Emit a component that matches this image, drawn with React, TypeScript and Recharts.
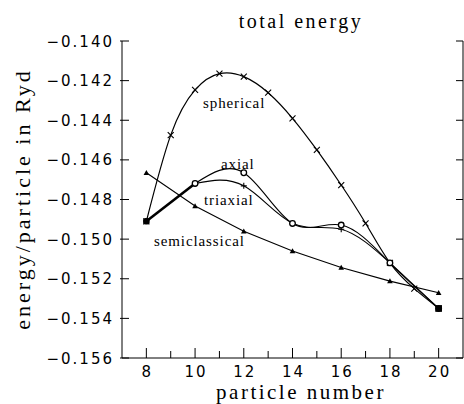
import React from 'react';
import { LineChart, Line, XAxis, YAxis, Label } from 'recharts';

const particleNumbers = [8, 9, 10, 11, 12, 13, 14, 15, 16, 17, 18, 19, 20];
const sphericalEnergy = [-0.1491, -0.14475, -0.14247, -0.14165, -0.1418, -0.14261, -0.1439, -0.1455, -0.14727, -0.1492, -0.1512, -0.1525, -0.1535];
const deformedNumbers = [10, 12, 14, 16, 18, 20];
const axialEnergy = [-0.14719, -0.14665, -0.14921, -0.14929, -0.1512, -0.1535];
const triaxialEnergy = [-0.14719, -0.14731, -0.1492, -0.1495, -0.1512, -0.1535];
const semiNumbers = [8, 10, 12, 14, 16, 18, 20];
const semiclassicalEnergy = [-0.14665, -0.14833, -0.1496, -0.1506, -0.15143, -0.15212, -0.15271];
const boldNumbers = [8, 10];
const boldEnergy = [-0.1491, -0.14719];
const endNumbers = [8, 20];
const endEnergy = [-0.1491, -0.1535];

const xTicks = [8, 9, 10, 11, 12, 13, 14, 15, 16, 17, 18, 19, 20];
const yTicks = [-0.156, -0.154, -0.152, -0.15, -0.148, -0.146, -0.144, -0.142, -0.14];

const title = 'total energy';
const xLabel = 'particle number';
const yLabel = 'energy/particle in Ryd';
const curveNames = ['spherical', 'axial', 'triaxial', 'semiclassical'];

const toRows = (xs: number[], ys: number[]) => xs.map((n, i) => ({ n, e: ys[i] }));

const sphericalData = toRows(particleNumbers, sphericalEnergy);
const axialData = toRows(deformedNumbers, axialEnergy);
const triaxialData = toRows(deformedNumbers, triaxialEnergy);
const semiData = toRows(semiNumbers, semiclassicalEnergy);
const boldData = toRows(boldNumbers, boldEnergy);
const endData = toRows(endNumbers, endEnergy);

const SANS = 'DejaVu Sans';
const SERIF = 'Liberation Serif';

const BottomTick = (props: any) => {
  const { x, y, payload } = props;
  const major = payload.value % 2 === 0;
  return (
    <g>
      <line x1={x} x2={x} y1={y} y2={y - (major ? 10 : 7)} stroke="#000" strokeWidth={1} />
      {major && (
        <text x={x + 1} y={y + 18.5} textAnchor="middle" fontFamily={SANS} fontSize={15} letterSpacing={2} fill="#000">
          {payload.value}
        </text>
      )}
    </g>
  );
};

const TopTick = (props: any) => {
  const { x, y, payload } = props;
  const major = payload.value % 2 === 0;
  return <line x1={x} x2={x} y1={y} y2={y + (major ? 10 : 7)} stroke="#000" strokeWidth={1} />;
};

const fmtY = (v: number) => '\u2212' + Math.abs(v).toFixed(3);

const LeftTick = (props: any) => {
  const { x, y, payload } = props;
  return (
    <g>
      <line x1={x - 2} x2={x + 7} y1={y} y2={y} stroke="#000" strokeWidth={1} />
      <text x={x - 8} y={y + 5.5} textAnchor="end" fontFamily={SANS} fontSize={15} letterSpacing={2} fill="#000">
        {fmtY(payload.value)}
      </text>
    </g>
  );
};

const RightTick = (props: any) => {
  const { x, y } = props;
  return <line x1={x} x2={x - 7} y1={y} y2={y} stroke="#000" strokeWidth={1} />;
};

const XLabelContent = () => (
  <g fill="#000" fontFamily={SERIF}>
    <text x={301} y={399} textAnchor="middle" fontSize={21} letterSpacing={2.5}>
      {xLabel}
    </text>
    <text x={301} y={28} textAnchor="middle" fontSize={20} letterSpacing={2.5}>
      {title}
    </text>
  </g>
);

const YLabelContent = () => (
  <text x={30} y={199} textAnchor="middle" transform="rotate(-90 30 199)" fontFamily={SERIF} fontSize={22} letterSpacing={3} fill="#000">
    {yLabel}
  </text>
);

const CurveLabels = () => (
  <g fontFamily={SERIF} fontSize={15} letterSpacing={0.9} fill="#000">
    <text x={203} y={108}>{curveNames[0]}</text>
    <text x={221} y={169}>{curveNames[1]}</text>
    <text x={204} y={205}>{curveNames[2]}</text>
    <text x={154} y={246}>{curveNames[3]}</text>
  </g>
);

const Cross = (props: any) => {
  const { cx, cy, index } = props;
  const s = 3;
  return (
    <path key={`x-${index}`} d={`M${cx - s},${cy - s}L${cx + s},${cy + s}M${cx - s},${cy + s}L${cx + s},${cy - s}`} stroke="#000" strokeWidth={1.1} fill="none" />
  );
};

const Plus = (props: any) => {
  const { cx, cy, index } = props;
  const s = 3;
  return (
    <path key={`p-${index}`} d={`M${cx - s},${cy}L${cx + s},${cy}M${cx},${cy - s}L${cx},${cy + s}`} stroke="#000" strokeWidth={1.1} fill="none" />
  );
};

const Ring = (props: any) => {
  const { cx, cy, index } = props;
  return <circle key={`o-${index}`} cx={cx} cy={cy} r={2.8} stroke="#000" strokeWidth={1.3} fill="#fff" />;
};

const Tri = (props: any) => {
  const { cx, cy, index } = props;
  const s = 2.8;
  return <path key={`t-${index}`} d={`M${cx},${cy - s}L${cx + s},${cy + s * 0.8}L${cx - s},${cy + s * 0.8}Z`} fill="#000" stroke="none" />;
};

const EndMark = (props: any) => {
  const { cx, cy, index } = props;
  return <rect key={`e-${index}`} x={cx - 3.3} y={cy - 3.3} width={6.6} height={6.6} rx={index === 0 ? 2.5 : 0.5} fill="#000" />;
};

export default function App() {
  return (
    <div style={{ position: 'absolute', left: 0, top: 0 }}>
      <LineChart width={464} height={404} margin={{ top: 41, right: 0, bottom: 0, left: 0 }}>
        <XAxis
          xAxisId="b"
          dataKey="n"
          type="number"
          domain={[7, 21]}
          ticks={xTicks}
          interval={0}
          orientation="bottom"
          height={46}
          tickSize={0}
          tickMargin={0}
          tick={<BottomTick />}
          axisLine={{ stroke: '#000', strokeWidth: 1 }}
          tickLine={false}
          allowDataOverflow
        >
          <Label content={<XLabelContent />} />
        </XAxis>
        <XAxis
          xAxisId="t"
          dataKey="n"
          type="number"
          domain={[7, 21]}
          ticks={xTicks}
          interval={0}
          orientation="top"
          height={0}
          tickSize={0}
          tickMargin={0}
          tick={<TopTick />}
          axisLine={{ stroke: '#000', strokeWidth: 1 }}
          tickLine={false}
          allowDataOverflow
        />
        <YAxis
          yAxisId="l"
          type="number"
          domain={[-0.156, -0.14]}
          ticks={yTicks}
          interval={0}
          orientation="left"
          width={122}
          tickSize={0}
          tickMargin={0}
          tick={<LeftTick />}
          axisLine={{ stroke: '#000', strokeWidth: 1 }}
          tickLine={false}
          allowDataOverflow
        >
          <Label content={<YLabelContent />} />
        </YAxis>
        <YAxis
          yAxisId="r"
          type="number"
          domain={[-0.156, -0.14]}
          ticks={yTicks}
          interval={0}
          orientation="right"
          width={1}
          tickSize={0}
          tickMargin={0}
          tick={<RightTick />}
          axisLine={{ stroke: '#000', strokeWidth: 1 }}
          tickLine={false}
          allowDataOverflow
        >
          <Label content={<CurveLabels />} />
        </YAxis>

        <Line xAxisId="b" yAxisId="l" data={semiData} dataKey="e" type="linear" stroke="#000" strokeWidth={1.1} dot={<Tri />} activeDot={false} isAnimationActive={false} />
        <Line xAxisId="b" yAxisId="l" data={sphericalData} dataKey="e" type="natural" stroke="#000" strokeWidth={1.2} dot={<Cross />} activeDot={false} isAnimationActive={false} />
        <Line xAxisId="b" yAxisId="l" data={triaxialData} dataKey="e" type="natural" stroke="#000" strokeWidth={1.1} dot={<Plus />} activeDot={false} isAnimationActive={false} />
        <Line xAxisId="b" yAxisId="l" data={axialData} dataKey="e" type="natural" stroke="#000" strokeWidth={1.1} dot={<Ring />} activeDot={false} isAnimationActive={false} />
        <Line xAxisId="b" yAxisId="l" data={boldData} dataKey="e" type="linear" stroke="#000" strokeWidth={2.6} dot={false} activeDot={false} isAnimationActive={false} />
        <Line xAxisId="b" yAxisId="l" data={endData} dataKey="e" type="linear" stroke="none" dot={<EndMark />} activeDot={false} isAnimationActive={false} />
      </LineChart>
    </div>
  );
}
